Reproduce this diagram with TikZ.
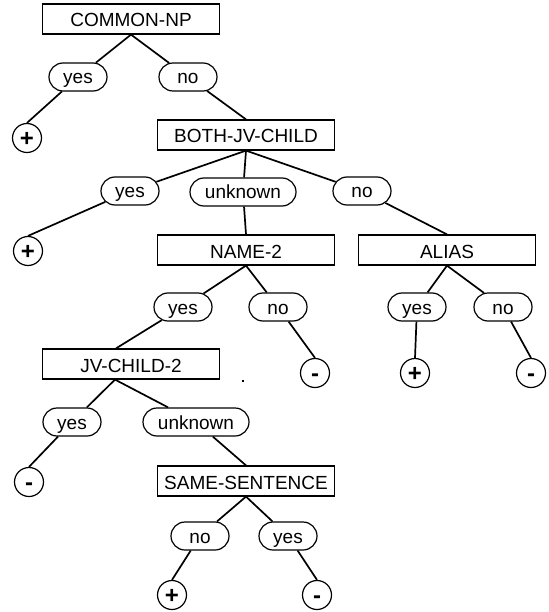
\documentclass[tikz,border=0pt]{standalone}
\usepackage{fontspec}
\setmainfont{Liberation Sans}
\usetikzlibrary{shapes.misc}
\begin{document}
\begin{tikzpicture}[x=1pt,y=-1pt,
  every node/.style={font=\fontsize{19}{22}\selectfont, inner ysep=0pt, text height=14pt, text depth=0pt},
  attr/.style={draw, line width=1.2pt, minimum width=177pt, minimum height=30pt, text height=16pt},
  val/.style={draw, rounded rectangle, line width=1.2pt, minimum width=62pt, minimum height=28pt, inner xsep=2pt},
  wide/.style={minimum width=110pt},
  leaf/.style={draw, circle, line width=1.2pt, minimum size=29pt, inner sep=0pt, font=\fontsize{24}{26}\selectfont\bfseries, text height=17pt},
  edge/.style={line width=1.7pt}]
\useasboundingbox (0,0) rectangle (548,612);

% attribute tests
\node[attr] (common) at (131,19)  {COMMON-NP};
\node[attr] (both)   at (246,135) {BOTH-JV-CHILD};
\node[attr] (name)   at (246,250) {NAME-2};
\node[attr] (alias)  at (447,250) {ALIAS};
\node[attr] (jv)     at (131,364) {JV-CHILD-2};
\node[attr] (same)   at (246,481) {SAME-SENTENCE};

% branch values
\node[val] (yes1) at (78,77)  {yes};
\node[val] (no1)  at (188,77) {no};
\node[val] (yes2) at (130,191) {yes};
\node[val,wide] (unk2) at (243,192) {unknown};
\node[val] (no2)  at (362,191) {no};
\node[val] (yes3) at (183,307) {yes};
\node[val] (no3)  at (278,307) {no};
\node[val] (yes4) at (417,307) {yes};
\node[val] (no4)  at (503,307) {no};
\node[val] (yes5) at (72,422)  {yes};
\node[val,wide] (unk5) at (196,422) {unknown};
\node[val] (no6)  at (200,536) {no};
\node[val] (yes6) at (288,536) {yes};

% class leaves
\node[leaf] (p1) at (27,138)  {+};
\node[leaf] (p2) at (28,251)  {+};
\node[leaf] (m3) at (315,373) {-};
\node[leaf] (p4) at (415,373) {+};
\node[leaf] (m4) at (531,373) {-};
\node[leaf] (m5) at (29,482)  {-};
\node[leaf] (p6) at (172,595) {+};
\node[leaf] (m6) at (317,595) {-};

\coordinate (jvin)  at ([xshift=-15pt]jv.north);
\coordinate (jvout) at ([xshift=-16pt]jv.south);

% branches
\draw[edge] (common.south) -- (yes1);
\draw[edge] (common.south) -- (no1);
\draw[edge] (yes1) -- (p1.north);
\draw[edge] (no1) -- (both.north);

\draw[edge] (both.south) -- (yes2);
\draw[edge] (both.south) -- (unk2);
\draw[edge] (both.south) -- (no2);
\draw[edge] (yes2) -- (p2.north);
\draw[edge] (unk2) -- (name.north);
\draw[edge] (no2) -- (alias.north);

\draw[edge] (name.south) -- (yes3);
\draw[edge] (name.south) -- (no3);
\draw[edge] (yes3) -- (jvin);
\draw[edge] (no3) -- (m3.north);

\draw[edge] (alias.south) -- (yes4);
\draw[edge] (alias.south) -- (no4);
\draw[edge] (yes4) -- (p4.north);
\draw[edge] (no4) -- (m4.north);

\draw[edge] (jvout) -- (yes5);
\draw[edge] (jvout) -- (unk5);
\draw[edge] (yes5) -- (m5.north);
\draw[edge] (unk5) -- (same.north);

\draw[edge] (same.south) -- (no6);
\draw[edge] (same.south) -- (yes6);
\draw[edge] (no6) -- (p6.north);
\draw[edge] (yes6) -- (m6.north);

% stray mark
\fill (242,380) rectangle (244,382);
\end{tikzpicture}
\end{document}
